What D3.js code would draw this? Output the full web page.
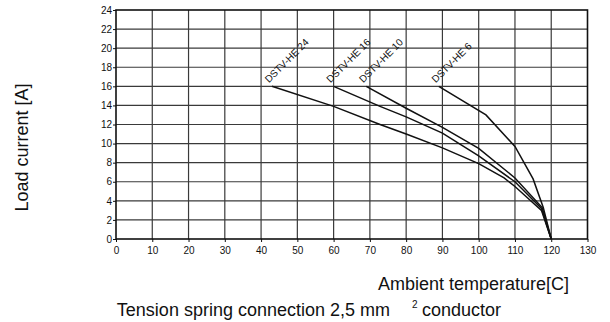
<!DOCTYPE html>
<html><head><meta charset="utf-8">
<script src="https://cdn.jsdelivr.net/npm/d3@7"></script>
<style>
html,body{margin:0;padding:0;background:#fff;}
svg{display:block;font-family:Arial,"Liberation Sans",sans-serif;}
</style></head>
<body><svg id="c" width="610" height="322"></svg>
<script>
const xTicks = [0,10,20,30,40,50,60,70,80,90,100,110,120,130];
const yTicks = [0,2,4,6,8,10,12,14,16,18,20,22,24];
const seriesNames = ["DSTV-HE 24","DSTV-HE 16","DSTV-HE 10","DSTV-HE 6"];
const he24Temp = [43,60,72.8,80,90,100,107,110,117.3,120];
const he24Load = [16,13.9,12.0,11.0,9.55,7.9,6.4,5.5,3.0,0];
const he16Temp = [60,72.8,80,90,100,110,117.3,120];
const he16Load = [16,13.9,12.8,11.1,8.7,6.0,3.2,0];
const he10Temp = [69,80,90,100,110,117.5,120];
const he10Load = [16,13.7,11.7,9.5,6.4,3.3,0];
const he6Temp = [89,102,110,115,117.8,120];
const he6Load = [16,13,9.7,6.3,3.3,0];

const seriesData = [
  [he24Temp,he24Load],[he16Temp,he16Load],[he10Temp,he10Load],[he6Temp,he6Load]
].map(([t,l],i)=>({name:seriesNames[i], pts:t.map((v,j)=>[v,l[j]])}));

const svg = d3.select("#c");
const L=116, R=587.5, T=10, B=239;
const x = d3.scaleLinear().domain([0,130]).range([L,R]);
const y = d3.scaleLinear().domain([0,24]).range([B,T]);

// grid
const g = svg.append("g");
g.selectAll(".gx").data(xTicks.slice(1,-1)).join("line")
  .attr("x1",d=>x(d)).attr("x2",d=>x(d)).attr("y1",T).attr("y2",B)
  .attr("stroke","#3a3a3a").attr("stroke-width",1.2);
g.selectAll(".gy").data(yTicks.slice(1,-1)).join("line")
  .attr("x1",L).attr("x2",R).attr("y1",d=>y(d)).attr("y2",d=>y(d))
  .attr("stroke","#3a3a3a").attr("stroke-width",1.2);

// axes
const ax = svg.append("g").attr("transform",`translate(0,${B})`)
  .call(d3.axisBottom(x).tickValues(xTicks).tickSize(3).tickSizeOuter(0));
ax.select(".domain").remove();
ax.selectAll("text").attr("font-size",10).attr("font-family","Arial, 'Liberation Sans', sans-serif").attr("dy","0.9em").attr("fill","#111");
ax.selectAll("line").attr("stroke","#111");
const ay = svg.append("g").attr("transform",`translate(${L},0)`)
  .call(d3.axisLeft(y).tickValues(yTicks).tickSize(3).tickSizeOuter(0));
ay.select(".domain").remove();
ay.selectAll("text").attr("font-size",10).attr("font-family","Arial, 'Liberation Sans', sans-serif").attr("x",-4).attr("fill","#111");
ay.selectAll("line").attr("stroke","#111");

// frame
svg.append("rect").attr("x",L).attr("y",T).attr("width",R-L).attr("height",B-T)
  .attr("fill","none").attr("stroke","#111").attr("stroke-width",1.6);

// curves
const line = d3.line().x(d=>x(d[0])).y(d=>y(d[1]));
svg.selectAll(".curve").data(seriesData).join("path")
  .attr("d",d=>line(d.pts)).attr("fill","none").attr("stroke","#111").attr("stroke-width",1.5);

// labels
svg.selectAll(".lab").data(seriesData).join("text")
  .attr("transform",d=>`translate(${x(d.pts[0][0])-3},${y(d.pts[0][1])-3}) rotate(-45)`)
  .attr("font-size",10).attr("fill","#111").text(d=>d.name);

// titles
svg.append("text").attr("transform","translate(28,147.5) rotate(-90)")
  .attr("text-anchor","middle").attr("font-size",18).attr("fill","#111").text("Load current [A]");
svg.append("text").attr("x",378).attr("y",290).attr("font-size",18).attr("fill","#111").text("Ambient temperature[C]");
const st = svg.append("text").attr("y",316).attr("font-size",18).attr("fill","#111");
st.append("tspan").attr("x",390).attr("text-anchor","end").text("Tension spring connection 2,5 mm");
st.append("tspan").attr("x",412).attr("y",308).attr("font-size",10).attr("text-anchor","start").text("2");
st.append("tspan").attr("x",422).attr("y",316).attr("text-anchor","start").text("conductor");
</script></body></html>
